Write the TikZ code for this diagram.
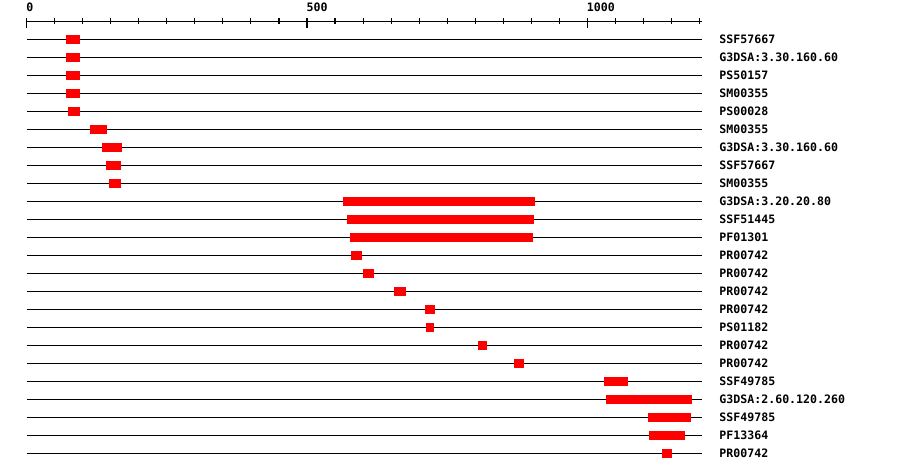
\documentclass[tikz,border=0pt]{standalone}
\usepackage{fontspec}
\setmonofont{DejaVu Sans Mono}
\begin{document}
\begin{tikzpicture}[x=1pt,y=-1pt,
  lbl/.style={inner sep=0pt,anchor=base west,font=\ttfamily\bfseries\fontsize{11.6}{12}\selectfont},
  track/.style={line width=1.1pt,black},
  hit/.style={fill=red,draw=none},
  tickline/.style={line width=1.1pt,black}]
\useasboundingbox[fill=white] (0,0) rectangle (900,472);
% axis
\coordinate (ax0) at (26.7,21.3);
\coordinate (ax1) at (701.5,21.3);
\draw[tickline] (ax0) -- (ax1);
\foreach \k in {0,...,24}{
  \pgfmathsetmacro\tx{26.7+0.5606*50*\k}
  \draw[tickline] (\tx,18.3) -- (\tx,24.3);
}
\foreach \v in {0,500,1000}{
  \pgfmathsetmacro\tx{26.7+0.5606*\v}
  \draw[tickline] (\tx,18.3) -- (\tx,28.3);
  \node[lbl] (axl\v) at (\tx-0.6,11.8) {\v};
}
% tracks
\foreach \n/\a/\b/\t in {
 1/66/80/SSF57667,
 2/66/80/G3DSA:3.30.160.60,
 3/66/80/PS50157,
 4/66/80/SM00355,
 5/68/80/PS00028,
 6/90/107/SM00355,
 7/102/122/G3DSA:3.30.160.60,
 8/106/121/SSF57667,
 9/109/121/SM00355,
 10/343/535/G3DSA:3.20.20.80,
 11/347/534/SSF51445,
 12/350/533/PF01301,
 13/351/362/PR00742,
 14/363/374/PR00742,
 15/394/406/PR00742,
 16/425/435/PR00742,
 17/426/434/PS01182,
 18/478/487/PR00742,
 19/514/524/PR00742,
 20/604/628/SSF49785,
 21/606/692/G3DSA:2.60.120.260,
 22/648/691/SSF49785,
 23/649/685/PF13364,
 24/662/672/PR00742}{
  \pgfmathsetmacro\ry{39.3+18*(\n-1)}
  \coordinate (s\n) at (26.7,\ry);
  \coordinate (e\n) at (702,\ry);
  \draw[track] (s\n) -- (e\n);
  \fill[hit] (\a,\ry-4.5) rectangle (\b,\ry+4.5);
  \node[lbl] (t\n) at (719.2,\ry+4.2) {\t};
}
\end{tikzpicture}
\end{document}
